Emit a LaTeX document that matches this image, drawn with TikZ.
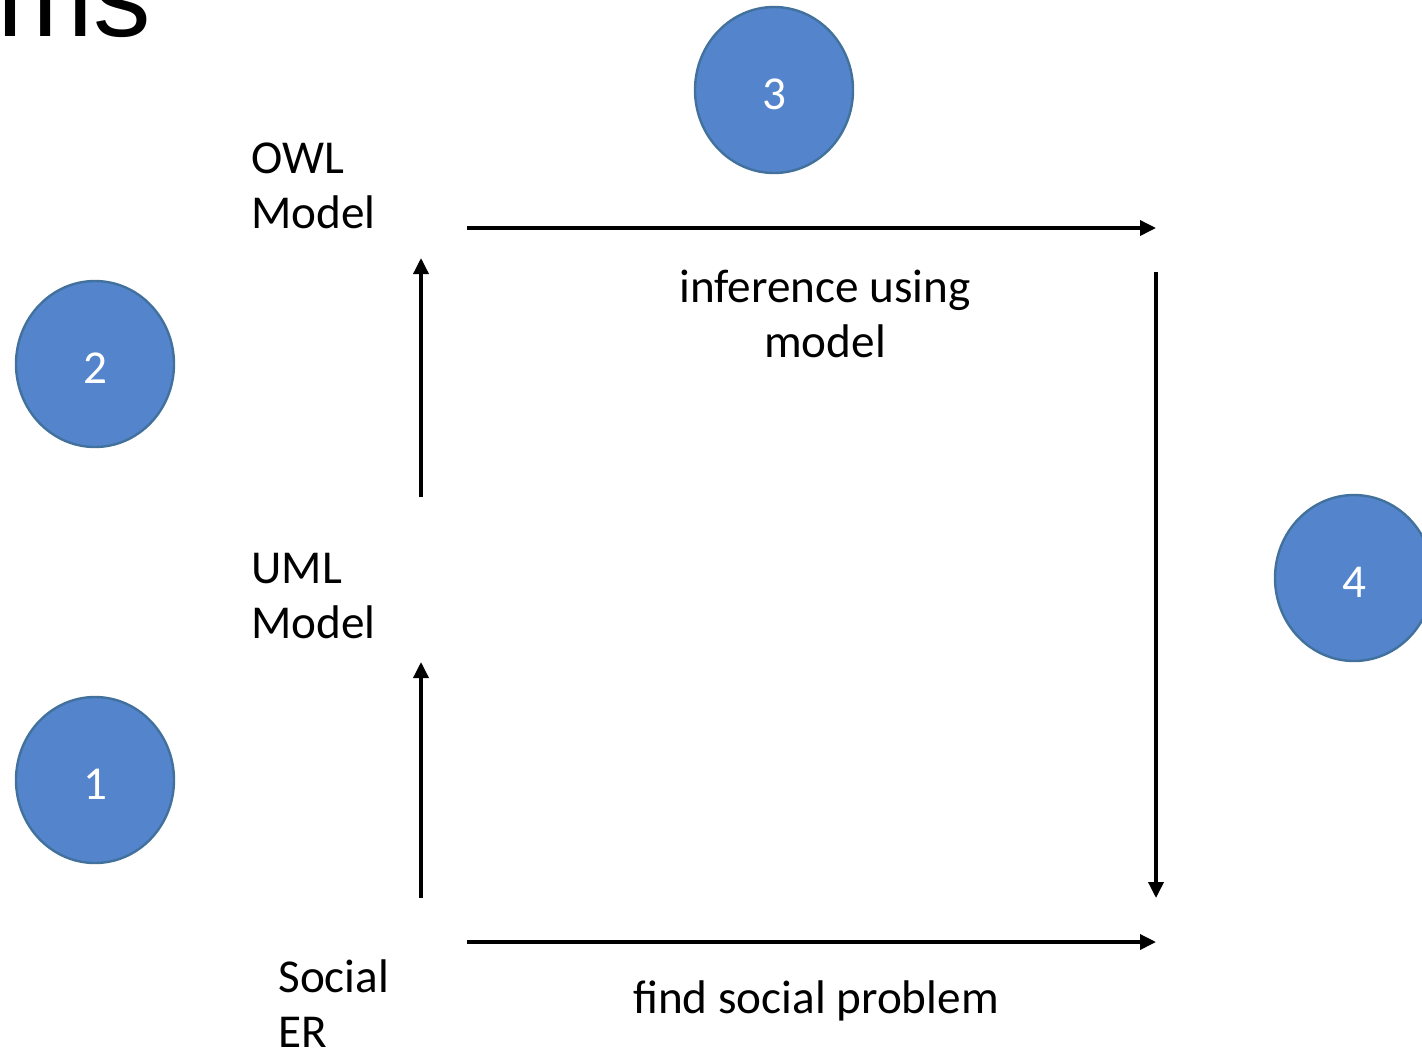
\documentclass[tikz,border=0pt]{standalone}
\usepackage{fontspec}
\setmainfont{Carlito}
\newfontfamily\titlefont{Liberation Sans}
\usetikzlibrary{shapes.geometric,arrows.meta}
\definecolor{stepblue}{RGB}{84,133,204}
\definecolor{stepedge}{RGB}{65,113,156}
\tikzset{numcirc/.style={
    ellipse,
    draw=stepedge,
    line width=1.2pt,
    fill=stepblue,
    text=white,
    minimum width=79pt,
    minimum height=83pt,
    inner sep=0pt,
    text height=19.5pt,
    text depth=0pt,
    font=\fontsize{23.6}{28}\selectfont
  },
  lbl/.style={
    inner sep=0pt,
    align=left,
    anchor=base west,
    font=\fontsize{23.6}{27.5}\selectfont
  },
  clbl/.style={lbl,align=center,anchor=base},
  flow/.style={line width=1.75pt,-{Triangle[length=8pt,width=7.5pt]}}
}
\begin{document}
\begin{tikzpicture}[x=0.5pt,y=-0.5pt]
  \useasboundingbox (0,0) rectangle (1422,1051);
  \clip (0,0) rectangle (1422,1051);
  \node[anchor=base west,inner sep=0pt,font=\titlefont\fontsize{57.5}{60}\selectfont] (title) at (-3,36) {ms};
  \node[numcirc] (one) at (95,780) {1};
  \node[numcirc] (two) at (95,364) {2};
  \node[numcirc] (three) at (774,90) {3};
  \node[numcirc] (four) at (1354,578) {4};
  \node[lbl] (owl) at (251,228) {OWL\\Model};
  \node[lbl] (uml) at (251,638) {UML\\Model};
  \node[lbl] (social) at (278,1047) {Social\\ER};
  \node[clbl] (infer) at (825,357) {inference using\\model};
  \node[clbl] (find) at (816,1013) {find social problem};
  \coordinate (umlbot) at (421,898);
  \coordinate (umltop) at (421,662);
  \coordinate (owlbot) at (421,497);
  \coordinate (owltop) at (421,258);
  \coordinate (infl) at (467,228);
  \coordinate (infr) at (1156,228);
  \coordinate (dntop) at (1156,272);
  \coordinate (dnbot) at (1156,898);
  \coordinate (findl) at (467,942);
  \coordinate (findr) at (1156,942);
  \draw[flow] (umlbot) -- (umltop);
  \draw[flow] (owlbot) -- (owltop);
  \draw[flow] (infl) -- (infr);
  \draw[flow] (dntop) -- (dnbot);
  \draw[flow] (findl) -- (findr);
\end{tikzpicture}
\end{document}
